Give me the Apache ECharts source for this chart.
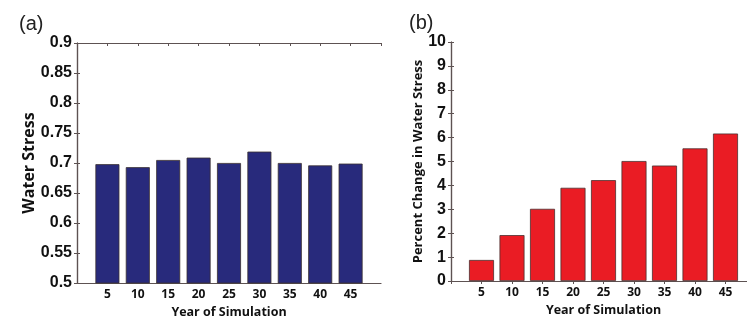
<!DOCTYPE html>
<html>
<head>
<meta charset="utf-8">
<script src="https://cdn.jsdelivr.net/npm/echarts@6/dist/echarts.min.js"></script>
<style>
  html, body { margin: 0; padding: 0; background: #fff; }
  #chart { width: 747px; height: 320px; }
</style>
</head>
<body>
<div id="chart"></div>
<script>
var years = [5, 10, 15, 20, 25, 30, 35, 40, 45];
var waterStress = [0.698, 0.693, 0.705, 0.709, 0.700, 0.719, 0.700, 0.696, 0.699];
var percentChange = [0.88, 1.92, 3.02, 3.9, 4.22, 5.02, 4.83, 5.55, 6.17];

var chart = echarts.init(document.getElementById('chart'));

var frameColor = '#5d5252';
var tickFont = { fontFamily: 'Liberation Sans', fontWeight: 'bold', fontSize: 16, color: '#111' };
var nameFont = { fontFamily: 'Open Sans', fontWeight: 'bold', fontSize: 12.5, color: '#111' };

function hideEnds(v) {
  return (v <= 0 || v >= 50) ? '' : String(v);
}

function xBottom(grid) {
  return {
    type: 'value', gridIndex: grid, position: 'bottom',
    min: 0, max: 50, interval: 5,
    name: 'Year of Simulation', nameLocation: 'middle', nameGap: 21,
    nameTextStyle: nameFont,
    axisLine: { show: true, lineStyle: { color: frameColor, width: 1.2 } },
    axisTick: { show: false },
    axisLabel: { formatter: hideEnds, margin: 6, fontFamily: 'Open Sans', fontWeight: 'bold', fontSize: 12, color: '#111' },
    splitLine: { show: false }
  };
}

function xTop(grid) {
  return {
    type: 'value', gridIndex: grid, position: 'top',
    min: 0, max: 50, interval: 5,
    axisLine: { show: true, lineStyle: { color: frameColor, width: 1.2 } },
    axisTick: { show: true, inside: true, length: 3, lineStyle: { color: frameColor } },
    axisLabel: { show: false },
    splitLine: { show: false }
  };
}

function yLeft(grid, min, max, step, name, nameSize, gap) {
  return {
    type: 'value', gridIndex: grid, position: 'left',
    min: min, max: max, interval: step,
    name: name, nameLocation: 'middle', nameGap: gap,
    nameTextStyle: Object.assign({}, nameFont, { fontSize: nameSize }),
    axisLine: { show: true, lineStyle: { color: frameColor, width: 1.2 } },
    axisTick: { show: true, inside: true, length: 3, lineStyle: { color: frameColor } },
    axisLabel: Object.assign({ margin: 5 }, tickFont),
    splitLine: { show: false }
  };
}

function yRight(grid, min, max, step) {
  return {
    type: 'value', gridIndex: grid, position: 'right',
    min: min, max: max, interval: step,
    axisLine: { show: true, lineStyle: { color: frameColor, width: 1.2 } },
    axisTick: { show: true, inside: true, length: 3, lineStyle: { color: frameColor } },
    axisLabel: { show: false },
    splitLine: { show: false }
  };
}

var option = {
  animation: false,
  backgroundColor: '#fff',
  title: [
    { text: '(a)', left: 14, top: 9, textStyle: { fontFamily: 'Liberation Sans', fontWeight: 'normal', fontSize: 20, color: '#222' } },
    { text: '(b)', left: 404, top: 8, textStyle: { fontFamily: 'Liberation Sans', fontWeight: 'normal', fontSize: 20, color: '#222' } }
  ],
  grid: [
    { left: 77, top: 43, width: 304, height: 240, outerBoundsMode: 'none' },
    { left: 451, top: 42, width: 305, height: 239, outerBoundsMode: 'none' }
  ],
  xAxis: [xBottom(0), xTop(0), xBottom(1), xTop(1)],
  yAxis: [
    yLeft(0, 0.5, 0.9, 0.05, 'Water Stress', 16, 40),
    yRight(0, 0.5, 0.9, 0.05),
    yLeft(1, 0, 10, 1, 'Percent Change in Water Stress', 13, 24),
    yRight(1, 0, 10, 1)
  ],
  series: [
    {
      type: 'bar', xAxisIndex: 0, yAxisIndex: 0, barWidth: 24,
      data: years.map(function (y, i) { return [y, waterStress[i]]; }),
      itemStyle: { color: '#282a7c', borderColor: '#3a3030', borderWidth: 0.8 }
    },
    {
      type: 'bar', xAxisIndex: 2, yAxisIndex: 2, barWidth: 25,
      data: years.map(function (y, i) { return [y, percentChange[i]]; }),
      itemStyle: { color: '#ea1c24', borderColor: '#4a3030', borderWidth: 0.8 }
    }
  ]
};

chart.setOption(option);
</script>
</body>
</html>
